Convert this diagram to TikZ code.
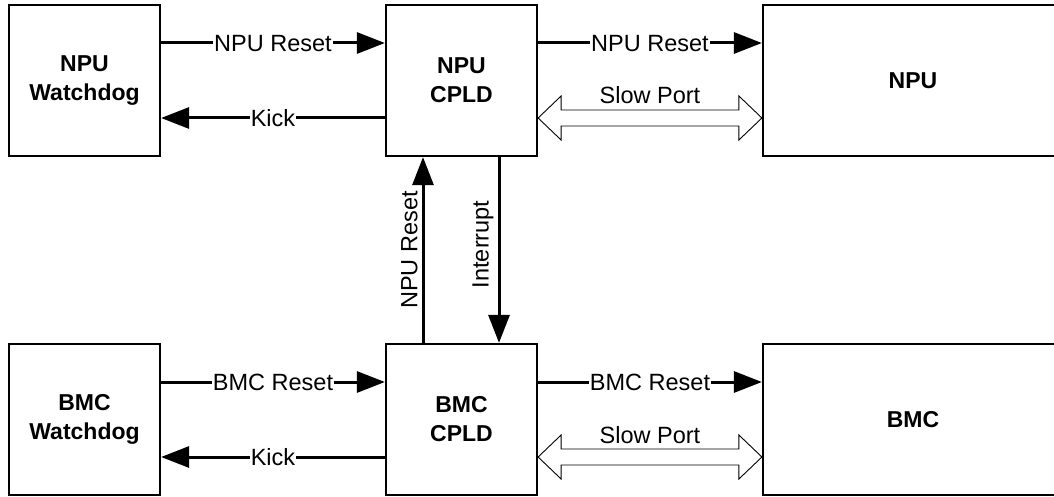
\documentclass[tikz,border=0pt]{standalone}
\usepackage{fontspec}
\setmainfont{Liberation Sans}
\usetikzlibrary{arrows.meta,calc}
\begin{document}
\begin{tikzpicture}[x=1pt,y=-1pt,
  block/.style={draw,line width=2.2pt,minimum width=151pt,minimum height=151pt,
    align=center,font=\fontsize{23}{29}\selectfont\bfseries,inner sep=0pt},
  sig/.style={line width=3pt,-{Triangle[length=28pt,width=21pt]}},
  lbl/.style={fill=white,inner sep=1pt,font=\fontsize{23.5}{26}\selectfont,
    text height=16.8pt,text depth=0pt},
  vlbl/.style={rotate=90,anchor=south,inner sep=4pt,font=\fontsize{23.5}{26}\selectfont},
  port/.style={draw,line width=0.9pt,fill=white}]
\useasboundingbox (0,0) rectangle (1054,497);

% blocks
\node[block] (npuwd)   at (84.5,80.5)  {NPU\\Watchdog};
\node[block] (npucpld) at (461.5,80.5) {NPU\\CPLD};
\node[block,minimum width=300pt] (npu) at (913,80.5) {NPU};
\node[block] (bmcwd)   at (84.5,419.5)  {BMC\\Watchdog};
\node[block] (bmccpld) at (461.5,419.5) {BMC\\CPLD};
\node[block,minimum width=300pt] (bmc) at (913,419.5) {BMC};

% watchdog <-> CPLD
\draw[sig] ([yshift=37.5pt]npuwd.east) -- node[lbl]{NPU Reset} ([yshift=37.5pt]npucpld.west);
\draw[sig] ([yshift=-37.5pt]npucpld.west) -- node[lbl]{Kick} ([yshift=-37.5pt]npuwd.east);
\draw[sig] ([yshift=37.5pt]bmcwd.east) -- node[lbl]{BMC Reset} ([yshift=37.5pt]bmccpld.west);
\draw[sig] ([yshift=-37.5pt]bmccpld.west) -- node[lbl]{Kick} ([yshift=-37.5pt]bmcwd.east);

% CPLD -> processor
\draw[sig] ([yshift=37.5pt]npucpld.east) -- node[lbl]{NPU Reset} ([yshift=37.5pt]npu.west);
\draw[sig] ([yshift=37.5pt]bmccpld.east) -- node[lbl]{BMC Reset} ([yshift=37.5pt]bmc.west);

% CPLD <-> CPLD
\draw[sig] ([xshift=-38.5pt]bmccpld.north) -- node[vlbl]{NPU Reset} ([xshift=-38.5pt]npucpld.south);
\draw[sig] ([xshift=37.5pt]npucpld.south) -- node[vlbl,pos=0.47]{Interrupt} ([xshift=37.5pt]bmccpld.north);

% slow ports
\foreach \a/\b in {npucpld/npu, bmccpld/bmc}{
  \coordinate (pa) at ([yshift=-37.5pt]\a.east);
  \coordinate (pb) at ([yshift=-37.5pt]\b.west);
  \draw[port] (pa) -- ($(pa)+(23,-22)$) -- ($(pa)+(23,-8)$) -- ($(pb)+(-23,-8)$)
    -- ($(pb)+(-23,-22)$) -- (pb) -- ($(pb)+(-23,22)$) -- ($(pb)+(-23,8)$)
    -- ($(pa)+(23,8)$) -- ($(pa)+(23,22)$) -- cycle;
  \node[anchor=base,inner sep=0pt,font=\fontsize{23.5}{26}\selectfont]
    (sp\a) at ($(pa)!0.5!(pb)+(0,-14)$) {Slow Port};
}
\end{tikzpicture}
\end{document}
